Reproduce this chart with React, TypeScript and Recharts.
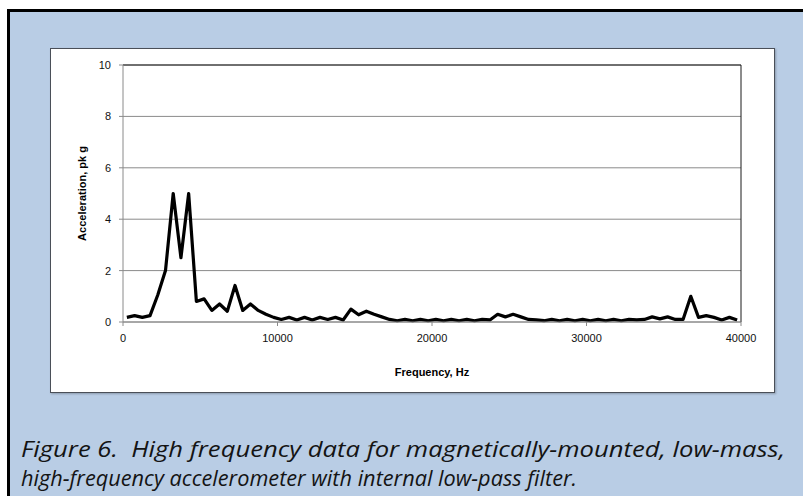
import React from "react";
import { LineChart, Line, XAxis, YAxis, CartesianGrid, ReferenceLine } from "recharts";

const frequencies = [
  250, 750, 1250, 1750, 2250, 2750, 3250, 3750, 4250, 4750,
  5250, 5750, 6250, 6750, 7250, 7750, 8250, 8750, 9250, 9750,
  10250, 10750, 11250, 11750, 12250, 12750, 13250, 13750, 14250, 14750,
  15250, 15750, 16250, 16750, 17250, 17750, 18250, 18750, 19250, 19750,
  20250, 20750, 21250, 21750, 22250, 22750, 23250, 23750, 24250, 24750,
  25250, 25750, 26250, 26750, 27250, 27750, 28250, 28750, 29250, 29750,
  30250, 30750, 31250, 31750, 32250, 32750, 33250, 33750, 34250, 34750,
  35250, 35750, 36250, 36750, 37250, 37750, 38250, 38750, 39250, 39750,
];

const acceleration = [
  0.18, 0.25, 0.18, 0.25, 1.05, 2.0, 5.0, 2.5, 5.0, 0.8,
  0.9, 0.45, 0.7, 0.42, 1.42, 0.45, 0.7, 0.45, 0.3, 0.18,
  0.1, 0.18, 0.08, 0.18, 0.08, 0.18, 0.1, 0.18, 0.08, 0.5,
  0.28, 0.42, 0.3, 0.2, 0.1, 0.05, 0.1, 0.05, 0.1, 0.05,
  0.1, 0.05, 0.1, 0.05, 0.1, 0.05, 0.1, 0.08, 0.3, 0.2,
  0.3, 0.2, 0.1, 0.08, 0.05, 0.1, 0.05, 0.1, 0.05, 0.1,
  0.05, 0.1, 0.05, 0.1, 0.05, 0.1, 0.08, 0.1, 0.2, 0.12,
  0.2, 0.1, 0.1, 1.0, 0.18, 0.25, 0.18, 0.08, 0.18, 0.08,
];

const xTicks = [0, 10000, 20000, 30000, 40000];
const yTicks = [0, 2, 4, 6, 8, 10];

const xTitle = "Frequency, Hz";
const yTitle = "Acceleration, pk g";
const captionLine1 = "Figure 6.  High frequency data for magnetically-mounted, low-mass,";
const captionLine2 = "high-frequency accelerometer with internal low-pass filter.";

const data = frequencies.map((f, i) => ({ f, a: acceleration[i] }));

const tickFont = { fontFamily: "'Liberation Sans', Arial, sans-serif", fontSize: 11, fill: "#111" };
const titleFont = { fontFamily: "'Liberation Sans', Arial, sans-serif", fontSize: 11, fontWeight: 700, fill: "#000" };
const captionFont = {
  fontFamily: "'Open Sans', 'Noto Sans', sans-serif",
  fontStyle: "italic",
  fontSize: 22,
  fill: "#141414",
  whiteSpace: "pre" as const,
};

export default function App() {
  return (
    <div style={{ position: "absolute", left: 0, top: 0, width: 803, height: 496, background: "#fff", overflow: "hidden" }}>
      <div
        style={{
          position: "absolute",
          left: 7,
          top: 9,
          width: 820,
          height: 520,
          background: "#b9cde5",
          borderLeft: "3px solid #000",
          borderTop: "3px solid #000",
          boxSizing: "border-box",
        }}
      />
      <div
        style={{
          position: "absolute",
          left: 50,
          top: 48,
          width: 725,
          height: 345,
          background: "#fff",
          border: "1px solid #4a4f58",
          boxSizing: "border-box",
          boxShadow: "1px 1px 2px rgba(0,0,0,0.25)",
        }}
      >
        <LineChart width={723} height={343} data={data} margin={{ top: 16, right: 33, bottom: 0, left: 0 }}>
          <CartesianGrid horizontal={true} vertical={false} stroke="#8a8a8a" strokeWidth={1} />
          <XAxis
            dataKey="f"
            type="number"
            domain={[0, 40000]}
            ticks={xTicks}
            height={70}
            axisLine={{ stroke: "#8a8a8a" }}
            tickLine={{ stroke: "#8a8a8a" }}
            tickSize={4}
            tickMargin={8}
            tick={tickFont}
            label={{ value: xTitle, position: "insideBottom", offset: 16, style: titleFont }}
          />
          <YAxis
            type="number"
            domain={[0, 10]}
            ticks={yTicks}
            width={72}
            axisLine={{ stroke: "#8a8a8a" }}
            tickLine={{ stroke: "#8a8a8a" }}
            tickSize={4}
            tickMargin={8}
            tick={tickFont}
            label={{ value: yTitle, angle: -90, position: "center", dx: -5, style: { ...titleFont, textAnchor: "middle" } }}
          />
          <ReferenceLine y={10} stroke="#1a1a1a" strokeWidth={1} />
          <ReferenceLine x={40000} stroke="#1a1a1a" strokeWidth={1} />
          <Line
            type="linear"
            dataKey="a"
            stroke="#000"
            strokeWidth={3.2}
            strokeLinejoin="round"
            dot={false}
            isAnimationActive={false}
          />
        </LineChart>
      </div>
      <svg style={{ position: "absolute", left: 0, top: 420 }} width={803} height={76}>
        <text x={21} y={37} textLength={764} lengthAdjust="spacingAndGlyphs" xmlSpace="preserve" style={captionFont}>
          {captionLine1}
        </text>
        <text x={21} y={66} textLength={556} lengthAdjust="spacingAndGlyphs" style={captionFont}>
          {captionLine2}
        </text>
      </svg>
    </div>
  );
}
